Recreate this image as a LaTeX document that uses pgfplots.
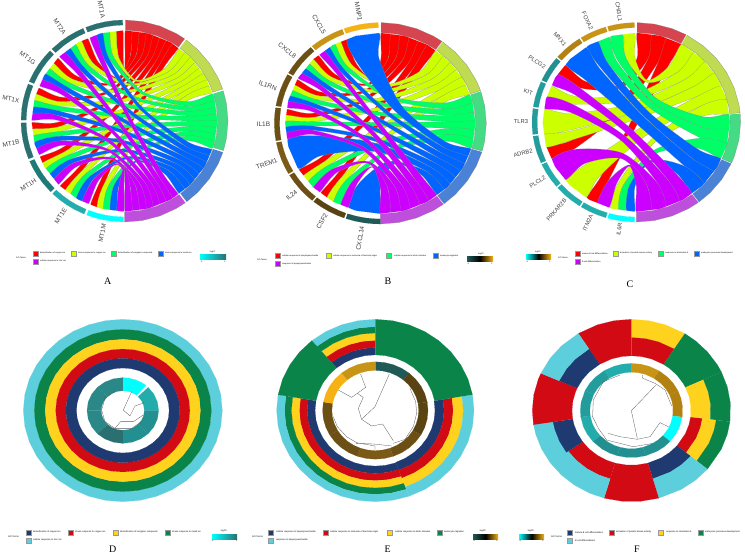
\documentclass[border=0pt]{standalone}
\usepackage{fontspec}
\setmainfont{Liberation Sans}
\newfontfamily\serifpan{Liberation Serif}
\usepackage{pgfplots}
\pgfplotsset{compat=1.18}

% ribbon colours, term arcs, ring colours
\definecolor{cR}{HTML}{FF0000}\definecolor{cY}{HTML}{CCFF00}\definecolor{cG}{HTML}{00FF66}
\definecolor{cB}{HTML}{0066FF}\definecolor{cP}{HTML}{CC00FF}
\definecolor{tR}{HTML}{D6444F}\definecolor{tY}{HTML}{BFDB51}\definecolor{tG}{HTML}{45DB85}
\definecolor{tB}{HTML}{4A82D8}\definecolor{tP}{HTML}{BE4FDC}
\definecolor{navy}{HTML}{1F3A70}\definecolor{red2}{HTML}{D20A14}\definecolor{yel}{HTML}{FFD21E}
\definecolor{grn}{HTML}{0A8449}\definecolor{lbl}{HTML}{5CCEDC}
\definecolor{t1}{HTML}{1F7A78}\definecolor{t2}{HTML}{2A8888}\definecolor{t3}{HTML}{229090}
\definecolor{t4}{HTML}{239C9C}\definecolor{t5}{HTML}{22ACAC}\definecolor{t6}{HTML}{2A7070}
\definecolor{cy}{HTML}{00FFFF}\definecolor{dkt}{HTML}{1F5A57}
\definecolor{or1}{HTML}{F5B212}\definecolor{or2}{HTML}{C89416}\definecolor{or3}{HTML}{B28112}
\definecolor{br1}{HTML}{5A4312}\definecolor{br2}{HTML}{6B4F15}\definecolor{br3}{HTML}{7A5A16}

\pgfplotsset{panel/.style={scale only axis,hide axis,anchor=center,clip=false,
  xmin=-120,xmax=120,ymin=-120,ymax=120}}

% one chord: colour|a1,a2,b1,b2,mid1,r1,mid2,r2; (angle,radius) pairs
\def\rb#1|#2,#3,#4,#5,#6,#7,#8,#9;{\addplot[fill=#1,draw=black!45,line width=.12pt,data cs=polar,
  smooth cycle,tension=.5] coordinates {(#2,90)(#2,64)(#6,#7)(#4,64)(#4,90)(#5,90)(#5,64)(#8,#9)(#3,64)(#3,90)};}

% ring sector: [options]{colour}{r inner}{r outer}{angles}
\newcommand\sect[5][]{\gdef\sO{}\gdef\sI{}%
  \foreach \a in {#5}{\xdef\sO{\sO(\a,#4)}\xdef\sI{(\a,#3)\sI}}%
  \edef\tmp{\noexpand\addplot[fill=#2,draw=#2,line width=.1pt,data cs=polar,#1] coordinates {\sO\sI};}\tmp}

\pgfplotsset{tree/.style={draw=black!65,line width=.3pt}}

\newcommand\gl[2]{\node[rotate=#1-180,anchor=east,inner sep=0pt,text=black!75] at (#1:\glx pt and \gly pt) {#2};}
\newcommand\litem[5]{\draw[draw=black!40,line width=.2pt,fill=#3] (#1,#2) rectangle ++(5,5);
  \node[anchor=west,inner sep=0pt] at (#4,{#2+2.4}) {#5};}
\newcommand\gol[2]{\node[anchor=west,inner sep=0pt] at (#1,#2) {GO Terms:};}
\newcommand\cbarlab[6]{\node[inner sep=0pt] at (#1,#2) {logFC};
  \node[inner sep=0pt] at (#3,#5) {-1};\node[inner sep=0pt] at (#4,#5) {1};}

\begin{document}
\begin{tikzpicture}
\useasboundingbox (0,0) rectangle (745pt,555pt);

% ---------- A
\begin{axis}[panel,at={(124.5pt,434pt)},width=248.4pt,height=242.4pt]
\rb cR|91,95.2,89.5,85.1,90.3,45,90.3,44.8;
\rb cR|113.5,117.7,85.1,80.7,99.3,43.6,99.3,42.7;
\rb cR|136,140.2,80.7,76.3,108.4,39.9,108.4,38.2;
\rb cR|158.5,162.7,76.3,71.9,117.4,33.9,117.4,31.6;
\rb cR|181,185.2,71.9,67.5,126.5,26.1,126.5,23.3;
\rb cR|203.5,207.7,67.5,63.1,135.5,16.9,135.5,13.7;
\rb cR|226,230.2,63.1,58.7,144.6,6.7,144.6,3.3;
\rb cR|248.5,252.7,58.7,54.3,153.6,-3.8,153.6,-7.2;
\rb cY|95.2,99.4,53.5,49.1,74.4,42.1,74.4,40.7;
\rb cY|117.7,121.9,49.1,44.7,83.4,37.2,83.4,35.2;
\rb cY|140.2,144.4,44.7,40.3,92.5,30.3,92.5,27.7;
\rb cY|162.7,166.9,40.3,35.9,101.5,21.7,101.5,18.7;
\rb cY|185.2,189.4,35.9,31.5,110.6,11.9,110.6,8.6;
\rb cY|207.7,211.9,31.5,27.1,119.6,1.5,119.6,-1.9;
\rb cY|230.2,234.4,27.1,22.7,128.7,-9,128.7,-12.3;
\rb cY|252.7,256.9,22.7,18.3,137.7,-19,137.7,-22;
\rb cG|99.4,103.6,17.5,13.1,58.5,34,58.5,31.7;
\rb cG|121.9,126.1,13.1,8.7,67.5,26.2,67.5,23.4;
\rb cG|144.4,148.6,8.7,4.3,76.6,17,76.6,13.8;
\rb cG|166.9,171.1,4.3,-.1,85.6,6.8,85.6,3.5;
\rb cG|189.4,193.6,-.1,-4.5,94.7,-3.7,94.7,-7.1;
\rb cG|211.9,216.1,-4.5,-8.9,103.7,-14.1,103.7,-17.2;
\rb cG|234.4,238.6,-8.9,-13.3,112.8,-23.6,112.8,-26.4;
\rb cG|256.9,261.1,-13.3,-17.7,121.8,-31.9,121.8,-34.2;
\rb cB|103.6,107.8,-18.5,-22.9,42.6,21.8,42.6,18.8;
\rb cB|126.1,130.3,-22.9,-27.3,51.6,12,51.6,8.7;
\rb cB|148.6,152.8,-27.3,-31.7,60.7,1.6,60.7,-1.8;
\rb cB|171.1,175.3,-31.7,-36.1,69.7,-8.9,69.7,-12.2;
\rb cB|193.6,197.8,-36.1,-40.5,78.8,-18.9,78.8,-21.9;
\rb cB|216.1,220.3,-40.5,-44.9,87.8,-27.9,87.8,-30.5;
\rb cB|238.6,242.8,-44.9,-49.3,96.9,-35.3,96.9,-37.3;
\rb cB|261.1,265.3,-49.3,-53.7,105.9,-40.8,105.9,-42.2;
\rb cP|107.8,112,-54.5,-58.9,26.7,6.9,26.7,3.6;
\rb cP|130.3,134.5,-58.9,-63.3,35.7,-3.6,35.7,-7;
\rb cP|152.8,157,-63.3,-67.7,44.8,-13.9,44.8,-17.1;
\rb cP|175.3,179.5,-67.7,-72.1,53.8,-23.5,53.8,-26.3;
\rb cP|197.8,202,-72.1,-76.5,62.9,-31.8,62.9,-34.1;
\rb cP|220.3,224.5,-76.5,-80.9,71.9,-38.3,71.9,-40;
\rb cP|242.8,247,-80.9,-85.3,81,-42.8,81,-43.7;
\rb cP|265.3,269.5,-85.3,-89.7,90,-44.8,90,-45;
\sect{white}{90}{106}{0,15,...,360}
\sect[draw=black!50,line width=.2pt]{tR}{90}{100}{89.5,80,70,60,54.5}
\sect[draw=black!50,line width=.2pt]{tY}{90}{100}{53.5,45,35,25,18.5}
\sect[draw=black!50,line width=.2pt]{tG}{90}{100}{17.5,10,0,-10,-17}
\sect[draw=black!50,line width=.2pt]{tB}{90}{100}{-18,-25,-35,-45,-53}
\sect[draw=black!50,line width=.2pt]{tP}{90}{100}{-54,-60,-70,-80,-90}
\sect{t6}{95}{100}{91,96,101,106,112}
\sect{t6}{95}{100}{113.5,118,123,128,134.5}
\sect{t6}{95}{100}{136,141,146,151,157}
\sect{t6}{95}{100}{158.5,163,168,173,179.5}
\sect{t6}{95}{100}{181,186,191,196,202}
\sect{t1}{95}{100}{203.5,208,213,218,224.5}
\sect{t5}{95}{100}{226,231,236,241,247}
\sect{cy}{95}{100}{248.5,253,258,263,269.5}
\end{axis}

% ---------- B
\begin{axis}[panel,at={(380.3pt,431.7pt)},width=254.4pt,height=241.7pt]
\rb cR|111,114.8,89.5,83.67,100.25,44.2,99.2,43.3;
\rb cR|131,134.8,83.67,77.83,107.3,41.2,106.3,39.5;
\rb cR|151,154.8,77.83,72,114.4,36.1,113.4,33.8;
\rb cR|171,174.8,72,66.17,121.5,29.2,120.5,26.3;
\rb cR|211,215.75,66.17,60.33,138.6,13.6,138.05,9.6;
\rb cR|231,235.75,60.33,54.5,145.7,3.7,145.1,-.5;
\rb cY|114.8,118.6,54,48.17,84.4,38.8,83.4,36.8;
\rb cY|134.8,138.6,48.17,42.33,91.5,32.7,90.5,30;
\rb cY|154.8,158.6,42.33,36.5,98.6,25,97.55,21.8;
\rb cY|174.8,178.6,36.5,30.67,105.65,16,104.6,12.4;
\rb cY|215.75,220.5,30.67,24.83,123.2,-2,122.65,-6.1;
\rb cY|235.75,240.5,24.83,19,130.3,-12,129.75,-15.9;
\rb cG|118.6,122.4,18.5,12.75,68.55,28.9,67.6,25.9;
\rb cG|138.6,142.4,12.75,7,75.7,20.5,74.7,17.1;
\rb cG|158.6,162.4,7,1.25,82.8,11,81.8,7.4;
\rb cG|178.6,182.4,1.25,-4.5,89.9,1,88.95,-2.7;
\rb cG|220.5,225.25,-4.5,-10.25,108,-17.2,107.5,-21;
\rb cG|240.5,245.25,-10.25,-16,115.1,-26.1,114.6,-29.3;
\rb cB|91,110,-16.5,-21.7,37.25,26.6,44.15,18.4;
\rb cB|122.4,126.2,-21.7,-26.9,50.35,13.9,49.65,10.5;
\rb cB|142.4,146.2,-26.9,-32.1,57.75,4.2,57.05,.7;
\rb cB|162.4,166.2,-32.1,-37.4,65.15,-5.7,64.4,-9.2;
\rb cB|182.4,186.2,-37.4,-42.6,72.5,-15.3,71.8,-18.6;
\rb cB|191,210,-42.6,-47.8,74.2,-20.3,81.1,-28.3;
\rb cB|251,270,-47.8,-53,101.6,-38.7,108.5,-42.7;
\rb cP|126.2,130,-53.5,-59.6,36.35,.1,35.2,-3.8;
\rb cP|146.2,150,-59.6,-65.75,43.3,-10,42.1,-13.8;
\rb cP|166.2,170,-65.75,-71.8,50.2,-19.7,49.1,-23.1;
\rb cP|186.2,190,-71.8,-77.9,57.2,-28.3,56,-31.3;
\rb cP|225.25,230,-77.9,-84,73.7,-39.6,73,-41.4;
\rb cP|245.25,250,-84,-90,80.6,-43.4,80,-44.3;
\sect{white}{90}{106}{0,15,...,360}
\sect[draw=black!50,line width=.2pt]{tR}{90}{100}{89.5,80,70,60,54.5}
\sect[draw=black!50,line width=.2pt]{tY}{90}{100}{54,45,35,25,19}
\sect[draw=black!50,line width=.2pt]{tG}{90}{100}{18.5,10,0,-10,-16}
\sect[draw=black!50,line width=.2pt]{tB}{90}{100}{-16.5,-25,-35,-45,-53}
\sect[draw=black!50,line width=.2pt]{tP}{90}{100}{-53.5,-60,-70,-80,-90}
\sect{or1}{95}{100}{91,96,101,106,110}
\sect{or2}{95}{100}{111,116,121,126,130}
\sect{br2}{95}{100}{131,136,141,146,150}
\sect{br2}{95}{100}{151,156,161,166,170}
\sect{br2}{95}{100}{171,176,181,186,190}
\sect{br3}{95}{100}{191,196,201,206,210}
\sect{br2}{95}{100}{211,216,221,226,230}
\sect{br1}{95}{100}{231,236,241,246,250}
\sect{dkt}{95}{100}{251,256,261,266,270}
\end{axis}

% ---------- C
\begin{axis}[panel,at={(636.3pt,432.7pt)},width=250.3pt,height=239.3pt]
\rb cR|140,147.5,89.5,80.17,114.75,40.7,113.8,37.4;
\rb cR|196,204,80.17,70.83,138.1,23.9,137.4,17.9;
\rb cR|238,245.5,70.83,61.5,154.4,5,153.5,-1.6;
\rb cY|91,98.5,61,51.75,76,43.5,75.1,41.3;
\rb cY|156,163.5,51.75,42.5,103.9,27.6,103,22.2;
\rb cY|172,187,42.5,33.25,107.25,19.2,110.1,10.2;
\rb cY|188,196,33.25,24,110.6,9.8,110,3.1;
\rb cY|221,237,24,14.75,122.5,-6.7,125.9,-16.2;
\rb cY|254,259,14.75,5.5,134.4,-22.2,132.25,-26.9;
\rb cG|98.5,106,5,-4.67,51.75,30.8,50.7,25.6;
\rb cG|107,114.5,-4.67,-14.33,51.2,25.3,50.1,19.4;
\rb cG|259,264,-14.33,-24,122.3,-32.8,120,-36.4;
\rb cB|114.5,122,-24.5,-34,45,15.8,44,9.4;
\rb cB|123,139,-34,-43.5,44.5,9,47.75,-1;
\rb cB|264,269,-43.5,-53,110.25,-40.4,108,-42.5;
\rb cP|147.5,155,-53.5,-62.6,47,-8.2,46.2,-14.5;
\rb cP|163.5,171,-62.6,-71.75,50.45,-17.6,49.6,-23.4;
\rb cP|205,220,-71.75,-80.9,66.6,-33.7,69.55,-39.1;
\rb cP|245.5,253,-80.9,-90,82.3,-43.1,81.5,-44.5;
\sect{white}{90}{106}{0,15,...,360}
\sect[draw=black!50,line width=.2pt]{tR}{90}{100}{89.5,80,70,61.5}
\sect[draw=black!50,line width=.2pt]{tY}{90}{100}{61,50,40,30,20,10,5.5}
\sect[draw=black!50,line width=.2pt]{tG}{90}{100}{5,0,-10,-20,-24}
\sect[draw=black!50,line width=.2pt]{tB}{90}{100}{-24.5,-35,-45,-53}
\sect[draw=black!50,line width=.2pt]{tP}{90}{100}{-53.5,-60,-70,-80,-90}
\sect{or2}{95}{100}{91,96,101,106}
\sect{or2}{95}{100}{107,112,117,122}
\sect{or3}{95}{100}{123,128,133,139}
\sect{t3}{95}{100}{140,145,150,155}
\sect{t4}{95}{100}{156,161,166,171}
\sect{t4}{95}{100}{172,177,182,187}
\sect{t4}{95}{100}{188,193,198,204}
\sect{t5}{95}{100}{205,210,215,220}
\sect{t5}{95}{100}{221,226,231,237}
\sect{t5}{95}{100}{238,243,248,253}
\sect{cy}{95}{100}{254,259,264,269}
\end{axis}

% ---------- D
\begin{axis}[panel,at={(122.8pt,144.5pt)},width=238.8pt,height=218.9pt]
\sect{lbl}{89}{100}{0,10,...,360}
\sect{grn}{78}{89}{0,10,...,360}
\sect{yel}{67.4}{78}{0,10,...,360}
\sect{red2}{57.2}{67.4}{0,10,...,360}
\sect{navy}{46.6}{57.2}{0,10,...,360}
\sect{cy}{21.7}{36}{90,80,...,45}
\sect{t5}{21.7}{36}{45,30,15,0}
\sect{t3}{21.7}{36}{0,-15,-30,-45}
\sect{t3}{21.7}{36}{-45,-60,-75,-90}
\sect{t6}{21.7}{36}{-90,-105,-120,-135}
\sect{t2}{21.7}{36}{-135,-150,-165,-180}
\sect{t2}{21.7}{36}{180,165,150,135}
\sect{t2}{21.7}{36}{135,120,105,90}
\addplot[tree] coordinates {(8.9,20.7)(.5,.5)(7.2,-6)(12.2,4.9)(21.6,8.6)};
\addplot[tree] coordinates {(-7.9,20.7)(-17.9,13.3)(-21.3,.5)(-17.9,-12.2)(-7.9,-19.6)(-2.2,-12.2)(10.6,-12.2)(20.6,-4.9)};
\addplot[tree] coordinates {(-7.9,-19.6)(8.9,-19.6)(18.9,-12.2)};
\end{axis}

% ---------- E
\begin{axis}[panel,at={(375.3pt,144.5pt)},width=236.9pt,height=218.9pt]
\sect{navy}{61}{69}{90,100,110,120,130}
\sect{red2}{69}{77}{90,100,110,120,130}
\sect{yel}{77}{85}{90,100,110,120,130}
\sect{grn}{85}{92}{90,100,110,120,130}
\sect{lbl}{92}{100}{90,100,110,120,130}
\sect{navy}{61}{69}{170,180,...,290}
\sect{red2}{69}{77}{170,180,...,290}
\sect{yel}{77}{85}{170,180,...,290}
\sect{grn}{85}{92}{170,180,...,290}
\sect{lbl}{92}{100}{170,180,...,290}
\sect{navy}{60.5}{69.6}{-70,-60,...,10}
\sect{red2}{69.6}{79}{-70,-60,...,10}
\sect{yel}{79}{89.2}{-70,-60,...,10}
\sect{lbl}{89.2}{100}{-70,-60,...,10}
\sect{grn}{61}{100}{10,20,...,90}
\sect{grn}{61}{100}{130,140,...,170}
\sect{dkt}{44}{53.4}{90,80,70,60,50}
\sect{br1}{44}{53.4}{50,40,30,20,10}
\sect{br1}{44}{53.4}{10,0,-10,-20,-30}
\sect{br2}{44}{53.4}{-30,-40,-50,-60,-70}
\sect{br3}{44}{53.4}{-70,-80,-90,-100,-110}
\sect{br2}{44}{53.4}{-110,-120,-130,-140,-150}
\sect{br2}{44}{53.4}{-150,-160,-170,-180,-190}
\sect{or1}{44}{53.4}{170,160,150,140,130}
\sect{or2}{44}{53.4}{130,120,110,100,90}
\addplot[tree] coordinates {(14.2,40)(-.3,4.2)(-13.9,-9.7)};
\addplot[tree] coordinates {(-14.9,40)(-9.8,25.4)(-18.2,18.8)(-24,14.4)(-37.5,22.5)};
\addplot[tree] coordinates {(-18.2,18.8)(-12.2,14.4)(-17.2,2.4)(-13.9,-9.7)(-3.7,-17)(7.4,-14.8)(18.2,-33.1)};
\addplot[tree] coordinates {(35.1,24.3)(40.9,9.7)(41.9,-3.1)(38.5,-17.7)(30.1,-31.6)(18.2,-36)};
\addplot[tree] coordinates {(-42.6,-6.8)(-38.5,-17.7)(-29.1,-28.7)(-18.9,-35.3)(-.3,-38.9)(-.3,-43.3)};
\addplot[tree] coordinates {(-19.6,-36)(-2,-36.7)(16.6,-38.9)};
\end{axis}

% ---------- F
\begin{axis}[panel,at={(631.5pt,144.5pt)},width=238.1pt,height=218.9pt]
\sect{red2}{60}{100}{90,100,110,122.4}
\sect{yel}{80}{100}{90,80,70,57.5}
\sect{red2}{60}{80}{90,80,70,57.5}
\sect{grn}{60}{100}{57.5,50,40,30,25}
\sect{yel}{60}{80}{25,15,5,-7}
\sect{grn}{80}{100}{25,15,5,-7}
\sect{red2}{60}{72}{-7,-15,-25,-40}
\sect{yel}{72}{86}{-7,-15,-25,-40}
\sect{grn}{86}{100}{-7,-15,-25,-40}
\sect{navy}{60}{78}{-40,-50,-60,-74}
\sect{lbl}{78}{100}{-40,-50,-60,-74}
\sect{red2}{60}{100}{-74,-85,-95,-106}
\sect{red2}{60}{78}{254,245,235,225,215}
\sect{lbl}{78}{100}{254,245,235,225,215,205,195,188}
\sect{navy}{60}{80}{215,205,195,189}
\sect{red2}{60}{100}{189,180,170,160,156}
\sect{navy}{60}{80}{156,145,135,122.4}
\sect{lbl}{80}{100}{156,145,135,122.4}
\sect{or2}{42}{51.6}{90,80,70,57.3}
\sect{or3}{42}{51.6}{57.3,45,35,24.5}
\sect{or3}{42}{51.6}{24.5,15,5,-8}
\sect{cy}{42}{51.6}{-8,-20,-30,-41}
\sect{t3}{42}{51.6}{-41,-50,-60,-74}
\sect{t3}{42}{51.6}{-74,-85,-95,-106}
\sect{t3}{42}{51.6}{-106,-115,-125,-139}
\sect{t5}{42}{51.6}{-139,-150,-160,-172}
\sect{t4}{42}{51.6}{-172,-180,-190,-205}
\sect{t4}{42}{51.6}{155,145,135,122}
\sect{t5}{42}{51.6}{122,110,100,90}
\addplot[tree] coordinates {(10.9,38.9)(11.3,35.3)(23.7,29.8)(33.8,22.5)(40.5,4.9)};
\addplot[tree] coordinates {(24.7,28)(-.2,-.2)(5.9,-30.9)};
\addplot[tree] coordinates {(-23.4,-25.1)(-11.6,-28.7)(5.9,-31.6)(18.7,-28.7)(28.7,-13.3)(37.1,-17.7)};
\addplot[tree] coordinates {(-11.6,38.9)(-28.4,31.6)(-38.5,11.5)(-39.2,-6.8)(-33.4,-19.6)(-25,-32.4)(1.8,-39.7)(22,-36)};
\end{axis}

% ---------- gene labels
\begin{scope}[shift={(124.5pt,434pt)},font=\fontsize{6.4}{7}\selectfont]
\def\glx{107}\def\gly{105}
\gl{101.5}{MT1A}\gl{124}{MT2A}\gl{146.5}{MT1G}\gl{169}{MT1X}\gl{191.5}{MT1B}
\gl{214}{MT1H}\gl{236.5}{MT1E}\gl{259}{MT1M}
\end{scope}
\begin{scope}[shift={(380.3pt,431.7pt)},font=\fontsize{6.5}{7}\selectfont]
\def\glx{110}\def\gly{104}
\gl{100.5}{MMP1}\gl{120.5}{CXCL5}\gl{140.5}{CXCL8}\gl{160.5}{IL1RN}\gl{180.5}{IL1B}
\gl{200.5}{TREM1}\gl{220.5}{IL24}\gl{240.5}{CSF2}\gl{260.5}{CXCL14}
\end{scope}
\begin{scope}[shift={(636.3pt,432.7pt)},font=\fontsize{5.8}{7}\selectfont]
\def\glx{108}\def\gly{102}
\gl{98.5}{CHI3L1}\gl{114.5}{FOXA2}\gl{131}{MNX1}\gl{147.5}{PLCG2}\gl{163.5}{KIT}
\gl{179.5}{TLR3}\gl{196}{ADRB2}\gl{212.5}{PLCL2}\gl{229}{PRKAR2B}\gl{245.5}{ITM2A}\gl{261.5}{IL6R}
\end{scope}

% ---------- legends, page coordinates with y downwards
\begin{scope}[x=1pt,y=-1pt,shift={(0,555pt)}]
\begin{scope}[font=\fontsize{2.1}{2.5}\selectfont]
\gol{16}{257.5}
\litem{33}{251}{cR}{40}{detoxification of copper ion}
\litem{71}{251}{cY}{78}{stress response to copper ion}
\litem{111}{251}{cG}{118}{detoxification of inorganic compound}
\litem{158}{251}{cB}{165}{stress response to metal ion}
\litem{33}{259}{cP}{40}{cellular response to zinc ion}
\shade[left color=cy,right color=t6] (200,255) rectangle (226,259.3);
\cbarlab{212.7}{251.7}{201.7}{225}{261.7}{}
\gol{257}{260}
\litem{275}{253.5}{cR}{282}{cellular response to lipopolysaccharide}
\litem{326}{253.5}{cY}{333}{cellular response to molecule of bacterial origin}
\litem{386}{253.5}{cG}{394}{cellular response to biotic stimulus}
\litem{433}{253.5}{cB}{440}{leukocyte migration}
\litem{275}{261.5}{cP}{282}{response to lipopolysaccharide}
\shade[left color=dkt,right color=or1,middle color=black] (467,257) rectangle (493,262);
\cbarlab{481}{254}{468}{492}{264}{}
\gol{558}{257.5}
\litem{575}{251}{cR}{582}{mature B cell differentiation}
\litem{613}{251}{cY}{620}{activation of protein kinase activity}
\litem{658}{251}{cG}{665}{response to interleukin-6}
\litem{694}{251}{cB}{701}{embryonic pancreas development}
\litem{575}{259}{cP}{582}{B cell differentiation}
\shade[left color=cy,right color=or1,middle color=black] (526,255) rectangle (551,259.3);
\cbarlab{538}{251.7}{527}{550}{261.7}{}
\end{scope}
\begin{scope}[font=\fontsize{2.3}{2.7}\selectfont]
\gol{8}{536.7}
\litem{26}{530}{navy}{33}{detoxification of copper ion}
\litem{68}{530}{red2}{75}{stress response to copper ion}
\litem{113}{530}{yel}{120}{detoxification of inorganic compound}
\litem{165}{530}{grn}{172}{stress response to metal ion}
\litem{26}{538}{lbl}{33}{cellular response to zinc ion}
\shade[left color=cy,right color=t6] (212,534) rectangle (237,539);
\cbarlab{224}{531}{212.7}{236.7}{541}{}
\gol{252}{536.7}
\litem{268.5}{530}{navy}{276}{cellular response to lipopolysaccharide}
\litem{323}{530}{red2}{330}{cellular response to molecule of bacterial origin}
\litem{387}{530}{yel}{395}{cellular response to biotic stimulus}
\litem{437}{530}{grn}{444}{leukocyte migration}
\litem{268.5}{538}{lbl}{276}{response to lipopolysaccharide}
\shade[left color=dkt,right color=or1,middle color=black] (473,534) rectangle (498,539);
\cbarlab{483}{531}{474}{497}{541}{}
\gol{551}{536.7}
\litem{567.5}{530}{navy}{575}{mature B cell differentiation}
\litem{609}{530}{red2}{616}{activation of protein kinase activity}
\litem{658.5}{530}{yel}{666}{response to interleukin-6}
\litem{698}{530}{grn}{705}{embryonic pancreas development}
\litem{567.5}{538}{lbl}{575}{B cell differentiation}
\shade[left color=cy,right color=or1,middle color=black] (519,534) rectangle (544,539);
\cbarlab{531}{531}{520}{543}{541}{}
\end{scope}
\begin{scope}[font=\serifpan\fontsize{10}{11}\selectfont]
\node at (107.7,281.7) {A};\node at (388,281.7) {B};\node at (630,284) {C};
\node at (112.7,549) {D};\node at (387.7,549) {E};\node at (637,549) {F};
\end{scope}
\end{scope}
\end{tikzpicture}
\end{document}
